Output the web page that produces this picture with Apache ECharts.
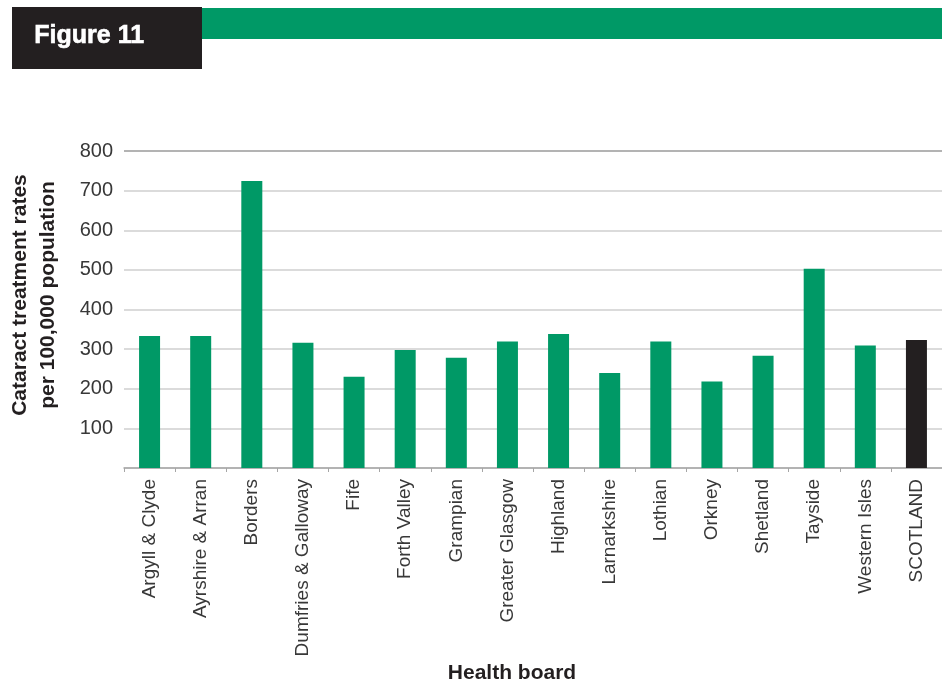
<!DOCTYPE html>
<html>
<head>
<meta charset="utf-8">
<script src="https://cdn.jsdelivr.net/npm/echarts@6/dist/echarts.min.js"></script>
<style>
  html, body { margin: 0; padding: 0; background: #fff; overflow: hidden; }
  #chart { width: 942px; height: 681px; }
</style>
</head>
<body>
<div id="chart"></div>
<script>
// Health boards along the x axis
const boards = [
  'Argyll & Clyde', 'Ayrshire & Arran', 'Borders', 'Dumfries & Galloway', 'Fife',
  'Forth Valley', 'Grampian', 'Greater Glasgow', 'Highland', 'Larnarkshire',
  'Lothian', 'Orkney', 'Shetland', 'Tayside', 'Western Isles', 'SCOTLAND'
];
// Cataract treatment rates per 100,000 population
const rates = [333, 333, 724, 316, 230, 298, 278, 319, 338, 240, 319, 218, 283, 503, 309, 323];
// Value axis ticks
const yTicks = [0, 100, 200, 300, 400, 500, 600, 700, 800];

const GREEN = '#009966';
const DARK = '#231f20';
const FONT = '"Liberation Sans", Arial, Helvetica, sans-serif';

const chart = echarts.init(document.getElementById('chart'), null, { renderer: 'canvas', width: 942, height: 681 });

const barData = rates.map((v, i) => ({
  value: v,
  itemStyle: { color: boards[i] === 'SCOTLAND' ? DARK : GREEN }
}));

chart.setOption({
  animation: false,
  backgroundColor: '#ffffff',
  graphic: [
    // figure tab
    { type: 'rect', left: 12, top: 7, shape: { width: 190, height: 62 }, style: { fill: DARK } },
    { type: 'rect', left: 202, top: 8, shape: { width: 740, height: 31 }, style: { fill: GREEN } },
    {
      type: 'text', left: 34, top: 23,
      style: { text: 'Figure 11', fill: '#ffffff', stroke: '#ffffff', lineWidth: 0.6, font: 'bold 25px ' + FONT }
    },
    // value axis title
    {
      type: 'text', x: 34, y: 295, rotation: Math.PI / 2,
      style: {
        text: 'Cataract treatment rates\nper 100,000 population',
        fill: DARK, font: 'bold 21px ' + FONT, align: 'center', verticalAlign: 'middle', lineHeight: 28
      }
    },
    // category axis title
    {
      type: 'text', x: 512, y: 673,
      style: { text: 'Health board', fill: DARK, font: 'bold 21px ' + FONT, align: 'center', verticalAlign: 'middle' }
    }
  ],
  grid: { left: 124, width: 821, top: 151, height: 317, containLabel: false },
  xAxis: {
    type: 'category',
    data: boards,
    boundaryGap: true,
    axisLine: { show: true, lineStyle: { color: '#a6a6a6', width: 1.5 } },
    axisTick: { show: true, length: 4, alignWithLabel: false, lineStyle: { color: '#a6a6a6' } },
    axisLabel: {
      rotate: 90, margin: 11, interval: 0,
      fontFamily: FONT, fontSize: 19, color: '#383838'
    },
    splitLine: { show: false }
  },
  yAxis: {
    type: 'value',
    min: yTicks[0],
    max: yTicks[yTicks.length - 1],
    interval: 100,
    axisLine: { show: false },
    axisTick: { show: false },
    axisLabel: {
      margin: 11,
      fontFamily: FONT, fontSize: 20, color: '#383838',
      formatter: v => (v === 0 ? '' : String(v))
    },
    splitLine: {
      show: true,
      lineStyle: {
        width: 1.5,
        color: yTicks.map((t, i) => (i === yTicks.length - 1 ? '#9a9a9a' : '#cfcfcf'))
      }
    }
  },
  series: [{
    type: 'bar',
    data: barData,
    barWidth: 21
  }]
});
</script>
</body>
</html>
